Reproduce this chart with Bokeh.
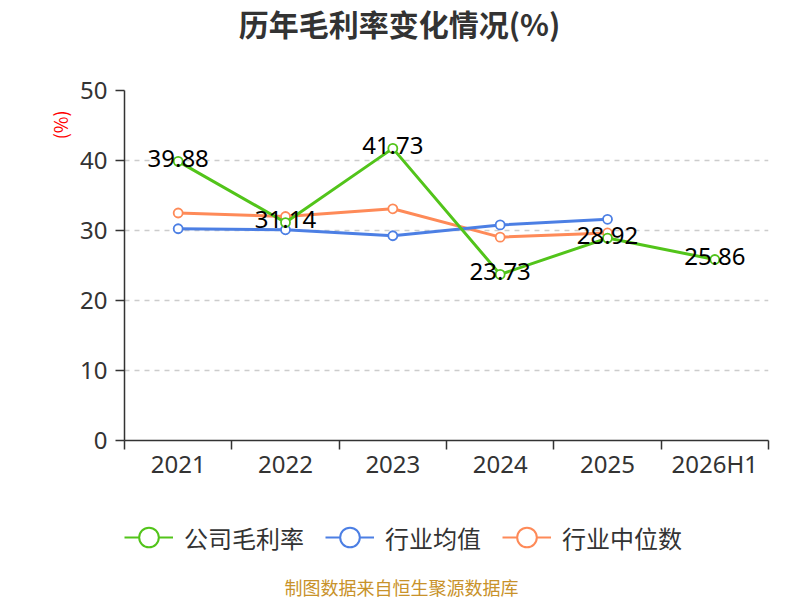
import math
from bokeh.plotting import figure
from bokeh.layouts import column
from bokeh.models import Range1d, FixedTicker, Legend, LegendItem, Title, Label, ColumnDataSource
from bokeh.embed import file_html
from bokeh.resources import INLINE
from bokeh.core.properties import value

# ---- data ----
categories = ["2021", "2022", "2023", "2024", "2025", "2026H1"]
company = [39.88, 31.14, 41.73, 23.73, 28.92, 25.86]
industry_avg = [30.25, 30.10, 29.25, 30.80, 31.60]
industry_median = [32.50, 32.00, 33.10, 29.05, 29.65]
y_ticks = [0, 10, 20, 30, 40, 50]
series_names = ["公司毛利率", "行业均值", "行业中位数"]
title_text = "历年毛利率变化情况(%)"
unit_text = "(%)"
source_text = "制图数据来自恒生聚源数据库"

GREEN = "#52c41a"
BLUE = "#4c7fe4"
ORANGE = "#fe8a58"
FONT = "Noto Sans CJK SC"
NUMFONT = "Noto Sans"

xs = [i + 0.5 for i in range(len(categories))]

LEFT, RIGHT = 124, 32
FRAME_W = 800 - LEFT - RIGHT


def bare(h):
    f = figure(frame_width=FRAME_W, frame_height=h, output_backend="svg",
               toolbar_location=None,
               x_range=Range1d(LEFT, LEFT + FRAME_W), y_range=Range1d(0, h),
               min_border_left=LEFT, min_border_right=RIGHT,
               min_border_top=0, min_border_bottom=0)
    f.axis.visible = False
    f.grid.visible = False
    f.outline_line_color = None
    f.background_fill_color = "white"
    f.border_fill_color = "white"
    return f


# ---- title strip ----
top = bare(70)
top.add_layout(Label(x=399, y=48, text=title_text, text_align="center",
                     text_baseline="middle", text_font=FONT, text_font_size="30px",
                     text_font_style="bold", text_color="#333333"))

# ---- main chart ----
p = figure(frame_width=FRAME_W, frame_height=350, output_backend="svg",
           toolbar_location=None,
           x_range=Range1d(0, len(categories)), y_range=Range1d(0, 50),
           min_border_left=LEFT, min_border_right=RIGHT, min_border_top=20,
           min_border_bottom=60)
p.outline_line_color = None
p.background_fill_color = "white"
p.border_fill_color = "white"

p.yaxis.ticker = FixedTicker(ticks=y_ticks)
p.yaxis.axis_line_color = "#333333"
p.yaxis.axis_line_width = 1.5
p.yaxis.major_tick_out = 9
p.yaxis.major_tick_in = 0
p.yaxis.major_tick_line_color = "#333333"
p.yaxis.major_tick_line_width = 1.5
p.yaxis.minor_tick_line_color = None
p.yaxis.major_label_text_font = NUMFONT
p.yaxis.major_label_text_font_size = "24px"
p.yaxis.major_label_text_color = "#333333"
p.yaxis.major_label_standoff = 8

p.xaxis.ticker = FixedTicker(ticks=xs, minor_ticks=list(range(len(categories) + 1)))
p.xaxis.major_label_overrides = {x: c for x, c in zip(xs, categories)}
p.xaxis.axis_line_color = "#333333"
p.xaxis.axis_line_width = 1.5
p.xaxis.major_tick_out = 0
p.xaxis.major_tick_in = 0
p.xaxis.minor_tick_out = 9
p.xaxis.minor_tick_in = 0
p.xaxis.minor_tick_line_color = "#333333"
p.xaxis.minor_tick_line_width = 1.5
p.xaxis.major_label_text_font = NUMFONT
p.xaxis.major_label_text_font_size = "24px"
p.xaxis.major_label_text_color = "#333333"
p.xaxis.major_label_standoff = -3

p.xgrid.visible = False
p.ygrid.ticker = FixedTicker(ticks=y_ticks[1:])
p.ygrid.grid_line_color = "#cccccc"
p.ygrid.grid_line_dash = "5 5"
p.ygrid.grid_line_width = 1.3


def draw(xv, yv, color):
    p.line(xv, yv, line_color=color, line_width=3)
    p.scatter(xv, yv, marker="circle", size=9, fill_color="white",
              line_color=color, line_width=1.8)


draw(xs[:len(industry_median)], industry_median, ORANGE)
draw(xs[:len(industry_avg)], industry_avg, BLUE)
draw(xs, company, GREEN)

src = ColumnDataSource(dict(x=xs, y=company, t=[f"{v:.2f}" for v in company]))
p.text("x", "y", text="t", source=src, text_align="center", text_baseline="middle",
       y_offset=-3, text_font=value(NUMFONT), text_font_size="24px", text_color="black")

p.add_layout(Title(text=unit_text, align="right", offset=20, text_font=FONT,
                   text_font_size="18px", text_font_style="normal",
                   text_color="red", standoff=9), "left")

# ---- legend + source strip ----
bot = bare(100)
bot.extra_y_ranges = {"off": Range1d(1000, 1001)}
items = []
for name, color, vals in zip(series_names, [GREEN, BLUE, ORANGE],
                             [company, industry_avg, industry_median]):
    lr = bot.line(xs[:len(vals)], vals, line_color=color, line_width=2, y_range_name="off")
    sr = bot.scatter(xs[:len(vals)], vals, marker="circle", size=20, fill_color="white",
                     line_color=color, line_width=2, y_range_name="off")
    items.append(LegendItem(label=name, renderers=[lr, sr]))
legend = Legend(items=items, orientation="horizontal", location=(0, 38), ncols=3,
                glyph_width=49, glyph_height=50, label_standoff=11, spacing=21,
                padding=0, margin=0, border_line_color=None, background_fill_alpha=0,
                label_text_font=FONT, label_text_font_size="24px",
                label_text_color="#333333", label_height=26)
bot.add_layout(legend, "center")
bot.add_layout(Label(x=401, y=14, text=source_text, text_align="center",
                     text_baseline="middle", text_font=FONT, text_font_size="18px",
                     text_color="#c8922a"))

layout = column(top, p, bot, spacing=0)
open("out.html", "w").write(file_html(layout, INLINE))
